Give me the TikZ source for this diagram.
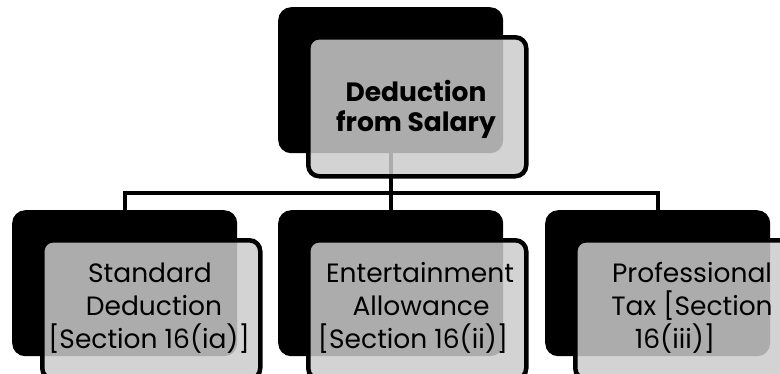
\documentclass[tikz,border=0pt]{standalone}
\usepackage{fontspec}
\setmainfont{Poppins}
\begin{document}
\begin{tikzpicture}[x=1pt,y=-1pt,
  backbox/.style={fill=black, rounded corners=13pt, minimum width=225pt, minimum height=146pt, inner sep=0pt, anchor=north west},
  frontbox/.style={draw=black, line width=4.5pt, fill={rgb,255:red,203;green,203;blue,203}, fill opacity=0.85, rounded corners=11pt, minimum width=218pt, minimum height=139pt, inner sep=0pt, anchor=north west},
  conn/.style={line width=4pt, draw=black},
  lbl/.style={anchor=base, inner sep=0pt, font=\fontsize{26.5pt}{33pt}\selectfont},
  tlbl/.style={anchor=base, inner sep=0pt, font=\fontsize{26.5pt}{30pt}\selectfont\bfseries}]
\useasboundingbox (0,0) rectangle (780,373);
\clip (0,0) rectangle (780,373);
% back boxes
\node[backbox] (b0) at (278,7) {};
\node[backbox] (b1) at (12,210) {};
\node[backbox] (b2) at (278,210) {};
\node[backbox] (b3) at (545,210) {};
% connectors
\coordinate (bus) at (0,193);
\draw[conn] (b0.south) -- (b2.north);
\draw[conn] (b1.north) -- (b1.north |- bus) -- (b3.north |- bus) -- (b3.north);
% front boxes
\node[frontbox] (f0) at (306,35) {};
\node[frontbox] (f1) at (40,238) {};
\node[frontbox] (f2) at (306,238) {};
\node[frontbox] (f3) at (573,238) {};
% labels
\node[tlbl] (t0a) at (416,101) {Deduction};
\node[tlbl] (t0b) at (416,131) {from Salary};
\node[lbl] (t1a) at (150,282) {Standard};
\node[lbl] (t1b) at (154,315) {Deduction};
\node[lbl] (t1c) at (149,348) {[Section 16(ia)]};
\node[lbl] (t2a) at (420,282) {Entertainment};
\node[lbl] (t2b) at (421,315) {Allowance};
\node[lbl] (t2c) at (413,348) {[Section 16(ii)]};
\node[lbl] (t3a) at (692,282) {Professional};
\node[lbl] (t3b) at (692,315) {Tax [Section};
\node[lbl] (t3c) at (675,348) {16(iii)]};
\end{tikzpicture}
\end{document}
